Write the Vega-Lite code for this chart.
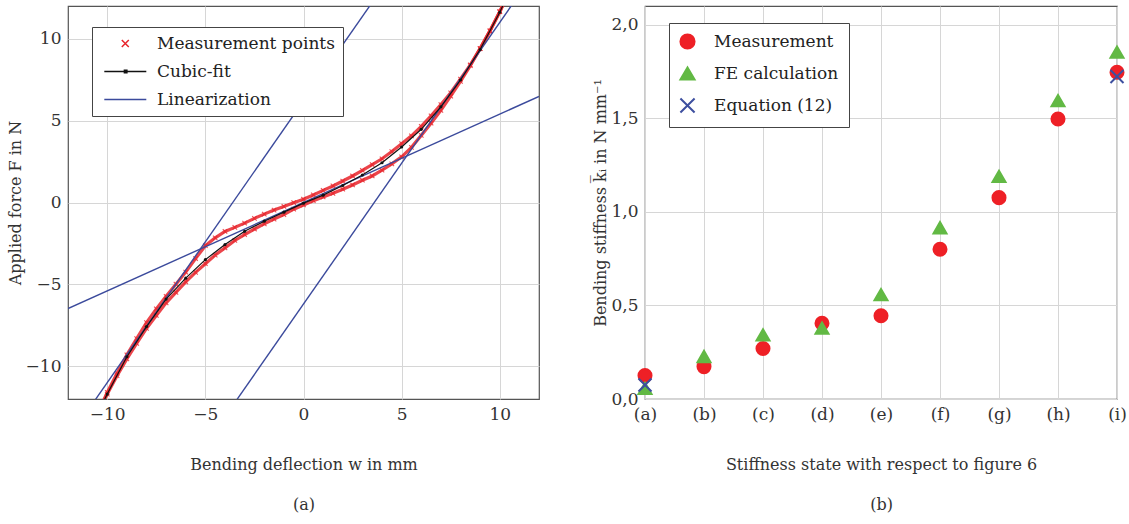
{
 "$schema": "https://vega.github.io/schema/vega-lite/v6.json",
 "background": "white",
 "padding": {"left": 6, "top": 5, "right": 0, "bottom": 0},
 "spacing": 52,
 "config": {
  "font": "DejaVu Serif",
  "view": {"stroke": "#555", "strokeWidth": 1.2},
  "axis": {"domain": false, "ticks": false, "grid": true, "gridColor": "#d6d6d6", "gridWidth": 1, "labelFont": "DejaVu Serif", "labelFontSize": 17, "labelColor": "#333", "labelPadding": 7, "titleFont": "DejaVu Serif, DejaVu Sans", "titleFontSize": 16, "titleFontWeight": "normal", "titleColor": "#333"}
 },
 "datasets": {
  "meas": [
   {"w": -10.5, "F": -12.91, "branch": "up", "series": "Measurement points"},
   {"w": -10, "F": -11.6, "branch": "up", "series": "Measurement points"},
   {"w": -9.5, "F": -10.43, "branch": "up", "series": "Measurement points"},
   {"w": -9, "F": -9.3, "branch": "up", "series": "Measurement points"},
   {"w": -8.5, "F": -8.31, "branch": "up", "series": "Measurement points"},
   {"w": -8, "F": -7.34, "branch": "up", "series": "Measurement points"},
   {"w": -7.5, "F": -6.5, "branch": "up", "series": "Measurement points"},
   {"w": -7, "F": -5.73, "branch": "up", "series": "Measurement points"},
   {"w": -6.5, "F": -4.99, "branch": "up", "series": "Measurement points"},
   {"w": -6, "F": -4.25, "branch": "up", "series": "Measurement points"},
   {"w": -5.5, "F": -3.42, "branch": "up", "series": "Measurement points"},
   {"w": -5, "F": -2.64, "branch": "up", "series": "Measurement points"},
   {"w": -4.5, "F": -2.16, "branch": "up", "series": "Measurement points"},
   {"w": -4, "F": -1.77, "branch": "up", "series": "Measurement points"},
   {"w": -3.5, "F": -1.52, "branch": "up", "series": "Measurement points"},
   {"w": -3, "F": -1.26, "branch": "up", "series": "Measurement points"},
   {"w": -2.5, "F": -0.97, "branch": "up", "series": "Measurement points"},
   {"w": -2, "F": -0.71, "branch": "up", "series": "Measurement points"},
   {"w": -1.5, "F": -0.46, "branch": "up", "series": "Measurement points"},
   {"w": -1, "F": -0.24, "branch": "up", "series": "Measurement points"},
   {"w": -0.5, "F": -0.01, "branch": "up", "series": "Measurement points"},
   {"w": 0, "F": 0.2, "branch": "up", "series": "Measurement points"},
   {"w": 0.5, "F": 0.46, "branch": "up", "series": "Measurement points"},
   {"w": 1, "F": 0.74, "branch": "up", "series": "Measurement points"},
   {"w": 1.5, "F": 1.01, "branch": "up", "series": "Measurement points"},
   {"w": 2, "F": 1.31, "branch": "up", "series": "Measurement points"},
   {"w": 2.5, "F": 1.62, "branch": "up", "series": "Measurement points"},
   {"w": 3, "F": 1.96, "branch": "up", "series": "Measurement points"},
   {"w": 3.5, "F": 2.32, "branch": "up", "series": "Measurement points"},
   {"w": 4, "F": 2.67, "branch": "up", "series": "Measurement points"},
   {"w": 4.5, "F": 3.11, "branch": "up", "series": "Measurement points"},
   {"w": 5, "F": 3.59, "branch": "up", "series": "Measurement points"},
   {"w": 5.5, "F": 4.07, "branch": "up", "series": "Measurement points"},
   {"w": 6, "F": 4.65, "branch": "up", "series": "Measurement points"},
   {"w": 6.5, "F": 5.29, "branch": "up", "series": "Measurement points"},
   {"w": 7, "F": 5.98, "branch": "up", "series": "Measurement points"},
   {"w": 7.5, "F": 6.7, "branch": "up", "series": "Measurement points"},
   {"w": 8, "F": 7.54, "branch": "up", "series": "Measurement points"},
   {"w": 8.5, "F": 8.41, "branch": "up", "series": "Measurement points"},
   {"w": 9, "F": 9.4, "branch": "up", "series": "Measurement points"},
   {"w": 9.5, "F": 10.48, "branch": "up", "series": "Measurement points"},
   {"w": 10, "F": 11.65, "branch": "up", "series": "Measurement points"},
   {"w": 10.5, "F": 12.91, "branch": "up", "series": "Measurement points"},
   {"w": -10.5, "F": -12.91, "branch": "lo", "series": "Measurement points"},
   {"w": -10, "F": -11.7, "branch": "lo", "series": "Measurement points"},
   {"w": -9.5, "F": -10.58, "branch": "lo", "series": "Measurement points"},
   {"w": -9, "F": -9.55, "branch": "lo", "series": "Measurement points"},
   {"w": -8.5, "F": -8.61, "branch": "lo", "series": "Measurement points"},
   {"w": -8, "F": -7.69, "branch": "lo", "series": "Measurement points"},
   {"w": -7.5, "F": -6.9, "branch": "lo", "series": "Measurement points"},
   {"w": -7, "F": -6.13, "branch": "lo", "series": "Measurement points"},
   {"w": -6.5, "F": -5.49, "branch": "lo", "series": "Measurement points"},
   {"w": -6, "F": -4.85, "branch": "lo", "series": "Measurement points"},
   {"w": -5.5, "F": -4.27, "branch": "lo", "series": "Measurement points"},
   {"w": -5, "F": -3.74, "branch": "lo", "series": "Measurement points"},
   {"w": -4.5, "F": -3.21, "branch": "lo", "series": "Measurement points"},
   {"w": -4, "F": -2.77, "branch": "lo", "series": "Measurement points"},
   {"w": -3.5, "F": -2.32, "branch": "lo", "series": "Measurement points"},
   {"w": -3, "F": -1.96, "branch": "lo", "series": "Measurement points"},
   {"w": -2.5, "F": -1.62, "branch": "lo", "series": "Measurement points"},
   {"w": -2, "F": -1.31, "branch": "lo", "series": "Measurement points"},
   {"w": -1.5, "F": -1.01, "branch": "lo", "series": "Measurement points"},
   {"w": -1, "F": -0.74, "branch": "lo", "series": "Measurement points"},
   {"w": -0.5, "F": -0.41, "branch": "lo", "series": "Measurement points"},
   {"w": 0, "F": -0.15, "branch": "lo", "series": "Measurement points"},
   {"w": 0.5, "F": 0.11, "branch": "lo", "series": "Measurement points"},
   {"w": 1, "F": 0.34, "branch": "lo", "series": "Measurement points"},
   {"w": 1.5, "F": 0.56, "branch": "lo", "series": "Measurement points"},
   {"w": 2, "F": 0.81, "branch": "lo", "series": "Measurement points"},
   {"w": 2.5, "F": 1.07, "branch": "lo", "series": "Measurement points"},
   {"w": 3, "F": 1.36, "branch": "lo", "series": "Measurement points"},
   {"w": 3.5, "F": 1.62, "branch": "lo", "series": "Measurement points"},
   {"w": 4, "F": 1.97, "branch": "lo", "series": "Measurement points"},
   {"w": 4.5, "F": 2.36, "branch": "lo", "series": "Measurement points"},
   {"w": 5, "F": 2.79, "branch": "lo", "series": "Measurement points"},
   {"w": 5.5, "F": 3.37, "branch": "lo", "series": "Measurement points"},
   {"w": 6, "F": 4.1, "branch": "lo", "series": "Measurement points"},
   {"w": 6.5, "F": 4.84, "branch": "lo", "series": "Measurement points"},
   {"w": 7, "F": 5.63, "branch": "lo", "series": "Measurement points"},
   {"w": 7.5, "F": 6.5, "branch": "lo", "series": "Measurement points"},
   {"w": 8, "F": 7.39, "branch": "lo", "series": "Measurement points"},
   {"w": 8.5, "F": 8.36, "branch": "lo", "series": "Measurement points"},
   {"w": 9, "F": 9.4, "branch": "lo", "series": "Measurement points"},
   {"w": 9.5, "F": 10.48, "branch": "lo", "series": "Measurement points"},
   {"w": 10, "F": 11.65, "branch": "lo", "series": "Measurement points"},
   {"w": 10.5, "F": 12.91, "branch": "lo", "series": "Measurement points"}
  ],
  "fit": [
   {"w": -10.5, "F": -12.91, "series": "Cubic-fit"},
   {"w": -10, "F": -11.7, "series": "Cubic-fit"},
   {"w": -9, "F": -9.42, "series": "Cubic-fit"},
   {"w": -8, "F": -7.58, "series": "Cubic-fit"},
   {"w": -7, "F": -5.9, "series": "Cubic-fit"},
   {"w": -6, "F": -4.62, "series": "Cubic-fit"},
   {"w": -5, "F": -3.49, "series": "Cubic-fit"},
   {"w": -4, "F": -2.57, "series": "Cubic-fit"},
   {"w": -3, "F": -1.76, "series": "Cubic-fit"},
   {"w": -2, "F": -1.14, "series": "Cubic-fit"},
   {"w": -1, "F": -0.59, "series": "Cubic-fit"},
   {"w": 0, "F": -0.04, "series": "Cubic-fit"},
   {"w": 1, "F": 0.45, "series": "Cubic-fit"},
   {"w": 2, "F": 1.04, "series": "Cubic-fit"},
   {"w": 3, "F": 1.68, "series": "Cubic-fit"},
   {"w": 4, "F": 2.43, "series": "Cubic-fit"},
   {"w": 5, "F": 3.39, "series": "Cubic-fit"},
   {"w": 6, "F": 4.47, "series": "Cubic-fit"},
   {"w": 7, "F": 5.84, "series": "Cubic-fit"},
   {"w": 8, "F": 7.48, "series": "Cubic-fit"},
   {"w": 9, "F": 9.34, "series": "Cubic-fit"},
   {"w": 10, "F": 11.62, "series": "Cubic-fit"},
   {"w": 10.5, "F": 12.9, "series": "Cubic-fit"}
  ],
  "lin": [
   {"w": -12, "F": -14.44, "line": "A", "series": "Linearization"},
   {"w": 4, "F": 13.08, "line": "A", "series": "Linearization"},
   {"w": -4, "F": -13.08, "line": "B", "series": "Linearization"},
   {"w": 12, "F": 14.44, "line": "B", "series": "Linearization"},
   {"w": -12, "F": -6.48, "line": "C", "series": "Linearization"},
   {"w": 12, "F": 6.48, "line": "C", "series": "Linearization"}
  ],
  "stiff": [
   {"state": "(a)", "k": 0.125, "method": "Measurement"},
   {"state": "(b)", "k": 0.173, "method": "Measurement"},
   {"state": "(c)", "k": 0.27, "method": "Measurement"},
   {"state": "(d)", "k": 0.405, "method": "Measurement"},
   {"state": "(e)", "k": 0.445, "method": "Measurement"},
   {"state": "(f)", "k": 0.8, "method": "Measurement"},
   {"state": "(g)", "k": 1.076, "method": "Measurement"},
   {"state": "(h)", "k": 1.496, "method": "Measurement"},
   {"state": "(i)", "k": 1.746, "method": "Measurement"},
   {"state": "(a)", "k": 0.057, "method": "FE calculation"},
   {"state": "(b)", "k": 0.227, "method": "FE calculation"},
   {"state": "(c)", "k": 0.343, "method": "FE calculation"},
   {"state": "(d)", "k": 0.379, "method": "FE calculation"},
   {"state": "(e)", "k": 0.558, "method": "FE calculation"},
   {"state": "(f)", "k": 0.915, "method": "FE calculation"},
   {"state": "(g)", "k": 1.19, "method": "FE calculation"},
   {"state": "(h)", "k": 1.594, "method": "FE calculation"},
   {"state": "(i)", "k": 1.853, "method": "FE calculation"},
   {"state": "(a)", "k": 0.075, "method": "Equation (12)"},
   {"state": "(i)", "k": 1.723, "method": "Equation (12)"}
  ]
 },
 "hconcat": [
  {
   "width": 471,
   "height": 393,
   "encoding": {
    "x": {"field": "w", "type": "quantitative", "scale": {"domain": [-12, 12], "nice": false, "zero": false},
          "axis": {"values": [-10, -5, 0, 5, 10], "title": ["Bending deflection w in mm", "(a)"], "titleLineHeight": 40, "titlePadding": 34}},
    "y": {"field": "F", "type": "quantitative", "scale": {"domain": [-12, 12], "nice": false, "zero": false},
          "axis": {"values": [-10, -5, 0, 5, 10], "title": "Applied force F in N", "titlePadding": 2}},
    "color": {"field": "series", "type": "nominal",
              "scale": {"domain": ["Measurement points", "Cubic-fit", "Linearization"], "range": ["#e8242b", "#111111", "#3b4a9c"]},
              "legend": {"orient": "none", "legendX": 24, "legendY": 21, "title": null, "direction": "vertical", "labelLimit": 400,
                         "padding": 8, "rowPadding": 10, "labelOffset": 40, "symbolSize": 49, "symbolStrokeWidth": 1.5,
                         "strokeColor": "#444", "fillColor": "white", "labelFont": "DejaVu Serif", "labelFontSize": 17, "labelColor": "#222",
                         "encode": {"symbols": {"update": {
                           "shape": {"signal": "datum.value === 'Measurement points' ? 'M3.8,-1L5.8,1M3.8,1L5.8,-1' : (datum.value === 'Cubic-fit' ? 'M-1.2,0H10.8M4.55,-0.35H5.25V0.35H4.55Z' : 'M-1.2,0H10.8')"},
                           "fill": {"signal": "datum.value === 'Cubic-fit' ? '#111111' : 'transparent'"},
                           "stroke": {"signal": "datum.value === 'Measurement points' ? '#e8242b' : (datum.value === 'Cubic-fit' ? '#111111' : '#3b4a9c')"},
                           "strokeWidth": {"value": 1.5},
                           "opacity": {"value": 1}
                         }}}}}
   },
   "layer": [
    {"data": {"name": "meas"}, "mark": {"type": "line", "clip": true, "strokeWidth": 3.2, "opacity": 0.85}, "encoding": {"detail": {"field": "branch"}}},
    {"data": {"name": "meas"}, "mark": {"type": "point", "clip": true, "filled": false, "shape": "M-1,-1L1,1M-1,1L1,-1", "size": 20, "strokeWidth": 1.1, "opacity": 0.8}},
    {"data": {"name": "lin"}, "mark": {"type": "line", "clip": true, "strokeWidth": 1.4}, "encoding": {"detail": {"field": "line"}}},
    {"data": {"name": "fit"}, "mark": {"type": "line", "clip": true, "strokeWidth": 1.2}},
    {"data": {"name": "fit"}, "mark": {"type": "point", "clip": true, "filled": true, "shape": "circle", "size": 10, "opacity": 1}}
   ]
  },
  {
   "width": 472,
   "height": 393,
   "data": {"name": "stiff"},
   "mark": {"type": "point", "filled": true, "strokeWidth": 2, "opacity": 1},
   "encoding": {
    "x": {"field": "state", "type": "nominal", "sort": null, "scale": {"type": "point", "padding": 0},
          "axis": {"labelAngle": 0, "title": ["Stiffness state with respect to figure 6", "(b)"], "titleLineHeight": 40, "titlePadding": 34}},
    "y": {"field": "k", "type": "quantitative", "scale": {"domain": [0, 2.1], "nice": false},
          "axis": {"values": [0, 0.5, 1, 1.5, 2], "labelExpr": "replace(format(datum.value, '.1f'), '.', ',')", "title": "Bending stiffness k̅ᵢ in N mm⁻¹", "titlePadding": 2}},
    "fill": {"field": "method", "type": "nominal", "scale": {"domain": ["Measurement", "FE calculation", "Equation (12)"], "range": ["#ee2026", "#62b944", "transparent"]},
             "legend": {"orient": "none", "legendX": 601, "legendY": 17, "title": null, "padding": 10, "rowPadding": 10, "labelOffset": 18, "symbolSize": 200, "labelLimit": 400,
                        "strokeColor": "#444", "fillColor": "white", "labelFont": "DejaVu Serif", "labelFontSize": 17, "labelColor": "#222", "symbolStrokeWidth": 2}},
    "stroke": {"field": "method", "type": "nominal", "scale": {"domain": ["Measurement", "FE calculation", "Equation (12)"], "range": ["#ee2026", "#62b944", "#3d4f9f"]},
               "legend": {"orient": "none", "legendX": 601, "legendY": 17, "title": null, "padding": 10, "rowPadding": 10, "labelOffset": 18, "symbolSize": 200, "labelLimit": 400,
                          "strokeColor": "#444", "fillColor": "white", "labelFont": "DejaVu Serif", "labelFontSize": 17, "labelColor": "#222", "symbolStrokeWidth": 2}},
    "shape": {"field": "method", "type": "nominal", "scale": {"domain": ["Measurement", "FE calculation", "Equation (12)"], "range": ["circle", "triangle-up", "M-1,-1L1,1M-1,1L1,-1"]},
              "legend": {"orient": "none", "legendX": 601, "legendY": 17, "title": null, "padding": 10, "rowPadding": 10, "labelOffset": 18, "symbolSize": 200, "labelLimit": 400,
                         "strokeColor": "#444", "fillColor": "white", "labelFont": "DejaVu Serif", "labelFontSize": 17, "labelColor": "#222", "symbolStrokeWidth": 2}},
    "size": {"value": 170}
   }
  }
 ]
}
